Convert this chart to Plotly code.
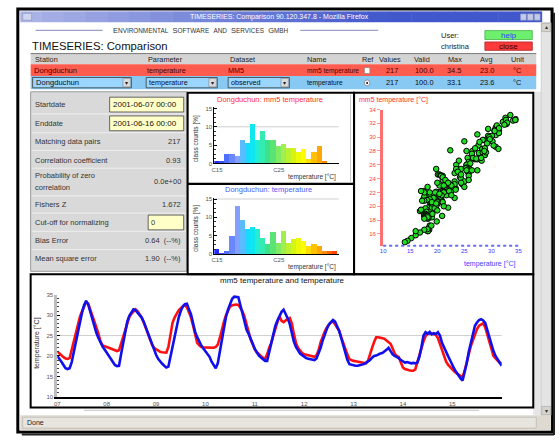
import plotly.graph_objects as go
import plotly.colors as pc
import pandas as pd

W, H = 559, 440
FONT = "Liberation Sans, Arial, sans-serif"

# ---------------- data ----------------
ts_start = "2001-06-07 00:00"
ts_end = "2001-06-16 00:00"
day_ticks = ["2001-06-%02d" % d for d in range(7, 16)]
day_labels = ["07", "08", "09", "10", "11", "12", "13", "14", "15"]

# observed temperature (blue), hourly values
obs_temp = [
    20.0, 19.4, 18.6, 17.8, 17.0, 16.8, 17.0, 18.5, 21.0, 23.5, 26.5, 28.6, 30.6, 32.4, 33.5, 32.6, 30.8, 29.4, 27.6, 25.6, 24.4, 23.2, 22.3, 21.6,
    20.9, 20.2, 19.4, 18.5, 17.8, 17.5, 17.6, 20.4, 23.2, 25.8, 28.4, 29.8, 30.8, 31.4, 31.2, 30.6, 30.1, 29.4, 28.4, 27.0, 25.8, 24.2, 22.6, 21.2,
    20.3, 19.3, 18.6, 18.1, 17.6, 17.2, 17.4, 19.8, 22.4, 25.0, 27.4, 29.4, 31.0, 32.1, 32.7, 32.8, 31.4, 30.2, 28.0, 25.9, 24.6, 23.4, 22.6, 21.8,
    21.2, 20.4, 19.8, 18.6, 17.6, 17.0, 18.2, 21.0, 24.0, 27.0, 29.6, 31.4, 32.9, 34.0, 34.5, 34.5, 34.4, 32.4, 30.6, 28.4, 26.4, 25.4, 24.4, 23.0,
    21.7, 20.8, 20.1, 19.6, 19.2, 18.8, 18.8, 21.0, 23.2, 25.6, 27.4, 28.7, 29.7, 30.8, 31.3, 30.4, 29.2, 27.8, 25.4, 23.5, 22.2, 21.2, 20.6, 20.2,
    19.8, 19.5, 19.3, 19.2, 19.1, 19.0, 19.4, 20.6, 22.0, 23.8, 25.4, 26.6, 27.7, 28.3, 28.8, 28.4, 27.2, 26.1, 24.4, 22.6, 20.8, 19.0, 18.0, 17.8,
    17.7, 17.6, 17.6, 17.7, 17.8, 18.0, 18.3, 18.6, 19.0, 19.6, 20.0, 20.1, 20.4, 20.6, 20.7, 21.0, 21.5, 22.0, 21.2, 20.4, 20.0, 19.8, 19.5, 19.0,
    18.6, 18.4, 18.5, 18.3, 18.2, 18.3, 18.2, 18.4, 19.8, 22.2, 25.0, 25.8, 25.4, 25.9, 25.3, 25.6, 25.4, 25.8, 25.0, 23.2, 22.0, 20.9, 19.9, 18.9,
    17.6, 16.8, 16.0, 15.2, 14.5, 14.0, 16.0, 18.2, 21.0, 23.4, 25.8, 27.4, 28.2, 28.8, 29.0, 28.7, 28.1, 26.4, 24.4, 22.6, 21.2, 20.0, 19.1, 18.2,
    17.6,
]

# mm5 model temperature (red)
mm5_temp = [
    21.1, 20.6, 20.1, 19.7, 19.4, 19.3, 19.5, 21.5, 23.8, 26.0, 28.0, 29.6, 30.9, 32.3, 33.2, 32.8, 31.4, 30.2, 28.8, 27.0, 25.4, 23.6, 22.6, 22.3,
    22.2, 22.0, 21.8, 21.6, 21.4, 21.2, 21.4, 23.0, 24.8, 26.4, 28.0, 29.5, 30.3, 30.9, 31.4, 31.0, 30.2, 29.4, 28.2, 26.8, 25.6, 24.2, 22.8, 22.0,
    21.6, 21.2, 21.0, 20.9, 20.8, 20.8, 22.2, 25.4, 28.1, 29.4, 30.4, 31.2, 31.7, 32.2, 32.5, 31.9, 30.6, 29.4, 27.4, 25.2, 23.2, 22.6, 22.2, 22.1,
    22.1, 22.0, 22.1, 22.0, 22.0, 22.2, 22.8, 24.4, 26.6, 28.4, 30.0, 31.3, 32.1, 32.4, 32.5, 32.6, 32.5, 31.8, 30.9, 29.6, 27.6, 26.0, 24.0, 22.8,
    21.6, 20.9, 20.4, 19.9, 19.5, 19.3, 20.4, 22.0, 23.2, 25.0, 26.8, 28.3, 29.7, 28.6, 28.3, 28.8, 29.1, 29.3, 28.0, 25.4, 23.2, 22.0, 21.2, 20.7,
    20.4, 20.3, 20.1, 20.0, 19.9, 19.8, 20.2, 21.4, 23.4, 25.0, 26.0, 27.0, 27.7, 28.3, 28.4, 27.8, 26.9, 26.2, 24.6, 23.0, 21.6, 20.4, 19.2, 18.9,
    18.8, 18.7, 18.6, 18.5, 18.4, 18.3, 18.2, 18.8, 20.6, 22.0, 23.4, 24.6, 24.6, 24.5, 24.4, 24.2, 23.8, 23.4, 23.0, 21.8, 20.6, 20.0, 19.7, 18.4,
    17.2, 16.8, 16.6, 16.5, 16.4, 16.4, 16.7, 18.4, 20.4, 22.2, 23.6, 24.8, 25.6, 25.4, 25.5, 25.3, 25.2, 24.4, 22.8, 21.2, 19.8, 18.6, 17.8, 17.2,
    16.6, 16.2, 15.8, 15.4, 15.0, 14.8, 16.4, 18.6, 20.6, 22.4, 23.8, 25.2, 26.6, 27.4, 27.8, 28.0, 27.0, 25.2, 23.4, 21.6, 20.0, 19.4, 18.9, 18.4,
    18.2,
]

# histogram classes [°C] and class counts [%]
hist_lo = 14.57
class_w = 0.83
mm5_counts = [0.7, 0.7, 2.5, 2.5, 2.0, 6.4, 5.6, 10.7, 6.4, 8.8, 6.2, 6.2,
              4.7, 5.1, 4.2, 4.2, 3.1, 3.8, 1.1, 3.1, 4.7, 0.7]
obs_counts = [1.5, 0.4, 0.8, 4.9, 13.0, 9.3, 6.8, 7.3, 6.8, 4.3, 2.7, 5.9,
              3.1, 6.3, 3.1, 4.0, 4.3, 3.6, 2.2, 2.7, 2.2, 0.9, 0.9, 0.9]
hist_tickvals = [15, 25]
hist_ticktext = ["C15", "C25"]

table_header = ["Station", "Parameter", "Dataset", "Name", "Ref", "Values", "Valid", "Max", "Avg", "Unit"]
row_mm5 = ["Dongduchun", "temperature", "MM5", "mm5 temperature", "", "217", "100.0", "34.5", "23.0", "°C"]
row_obs = ["Dongduchun", "temperature", "observed", "temperature", "", "217", "100.0", "33.1", "23.6", "°C"]

start_date = "2001-06-07 00:00"
end_date = "2001-06-16 00:00"
stats_labels = ["Matching data pairs", "Correlation coefficient", "Probability of zero|correlation",
                "Fishers Z", "Cut-off for normalizing", "Bias Error", "Mean square error"]
stats_values = ["217", "0.93", "0.0e+00", "1.672", "0", "0.64  (--%)", "1.90  (--%)"]

hist1_ref_pct = 10
hist2_ref_pct = 15
ts_ref_temp = 25

assert len(obs_temp) == 217 and len(mm5_temp) == 217

times = pd.date_range(ts_start, ts_end, freq="h")

# ---------------- helpers ----------------
shapes = []
anns = []


def R(x0, y0, x1, y1, fill="rgba(0,0,0,0)", line="rgba(0,0,0,0)", lw=0, layer="above", kind="rect"):
    shapes.append(dict(type=kind, xref="paper", yref="paper", x0=x0 / W, x1=x1 / W,
                       y0=1 - y1 / H, y1=1 - y0 / H, fillcolor=fill,
                       line=dict(color=line, width=lw), layer=layer))


def L(x0, y0, x1, y1, color, lw=1, dash="solid", layer="above"):
    shapes.append(dict(type="line", xref="paper", yref="paper", x0=x0 / W, x1=x1 / W,
                       y0=1 - y0 / H, y1=1 - y1 / H, line=dict(color=color, width=lw, dash=dash),
                       layer=layer))


def T(x, y, s, size=7.5, color="#222", xa="left", ya="middle", angle=0):
    anns.append(dict(x=x / W, y=1 - y / H, xref="paper", yref="paper", text=s, showarrow=False,
                     xanchor=xa, yanchor=ya, textangle=angle, borderpad=0,
                     font=dict(size=size, color=color, family=FONT)))


def small_caps(words, big=8.6, small=6.4):
    out = []
    for w in words:
        if w.islower():
            out.append("<span style='font-size:%spx'>%s</span>" % (small, w.upper()))
        else:
            out.append("%s<span style='font-size:%spx'>%s</span>" % (w[0], small, w[1:].upper()))
    return "  ".join(out)


# ---------------- window chrome ----------------
R(15, 6, 556, 435, fill="white", line="black", lw=3, layer="below")
L(558, 10, 558, 438, "#222", 2)
L(19, 437.5, 558, 437.5, "#222", 2)
# title bar gradient
n = 24
for i in range(n):
    f = i / (n - 1)
    r = int(170 - 105 * min(1, f * 1.4))
    g = int(178 - 90 * min(1, f * 1.4))
    b = int(230 - 25 * min(1, f * 1.4))
    R(17.5 + i * (528 / n), 8.5, 17.5 + (i + 1) * (528 / n) + 0.5, 19.5, fill="rgb(%d,%d,%d)" % (r, g, b))
R(20, 10.5, 29, 17.5, fill="#d0d6f0", line="#8890b8", lw=0.6)
for bx in (524, 531, 538):
    R(bx, 11, bx + 6, 17.5, fill="#c4cbe8", line="#7f8cc0", lw=0.6)
T(280, 14.3, "TIMESERIES: Comparison 90.120.347.8 - Mozilla Firefox", size=7, color="white", xa="center")

# right grey strip + scrollbar
R(537, 90, 545, 418, fill="#e6e6e6")
R(545, 20, 555, 418, fill="#e4e4e4", line="#bdbdbd", lw=0.6)
R(545.5, 20.5, 554.5, 29, fill="#d6d3cc", line="#999", lw=0.5)
R(545.5, 409, 554.5, 417.5, fill="#d6d3cc", line="#999", lw=0.5)
T(550, 24.8, "▴", size=6, color="#333", xa="center")
T(550, 413.2, "▾", size=6, color="#333", xa="center")
# status bar
R(17.5, 418, 555, 433.5, fill="#dedad2")
R(20, 420, 540, 431, fill="#e8e5df", line="#b0aca4", lw=0.6)
T(23, 425.5, "Done", size=7, color="#222")
L(82, 413, 482, 413, "#d0d0d0", 1.2)

# header
L(33, 27.8, 101, 27.8, "#9aa0c8", 1.2)
L(301, 27.8, 380, 27.8, "#9aa0c8", 1.2)
T(201, 27.5, small_caps(["Environmental", "Software", "and", "Services", "GmbH"]),
  color="#333", xa="center")
T(28.5, 43.5, "TIMESERIES: Comparison", size=11.3, color="#111")
T(443, 32.5, "User:", size=7.5, color="#222")
T(443, 44, "christina", size=7.5, color="#222")
R(488, 28, 536, 37, fill="#6ef06e", line="#44b044", lw=0.8)
T(512, 32.6, "help", size=8, color="#2a46f0", xa="center")
R(488, 39.5, 536, 48, fill="#ff3a3a", line="#b02020", lw=0.8)
T(512, 43.9, "close", size=8, color="#3a0000", xa="center")

# table
R(28, 51, 540, 62, fill="#d4d4d4")
L(28, 51.3, 540, 51.3, "#7a7a7a", 1)
R(28, 62, 540, 74, fill="#ff5c50")
R(28, 74, 540, 87.5, fill="#88c9f4")
col_x = [31, 146, 229, 307, 363, 380, 415, 450, 482, 513]
row_x = [30, 145, 227, 307, 366, 387, 416, 449, 482, 515]
row_sz = [7.6, 7.2, 7.2, 6.6, 7, 7.4, 7.4, 7.4, 7.4, 7.4]
for x, s in zip(col_x, table_header):
    T(x, 57, s, size=7.3, color="#222")
for x, s, sz in zip(row_x, row_mm5, row_sz):
    if s:
        T(x, 68.5, s, size=sz, color="#4a0000")
R(366, 65.5, 371.5, 71.5, fill="white", line="#777", lw=0.6)
for (bx0, bx1) in [(30, 130), (145, 217), (228, 290)]:
    R(bx0, 75.5, bx1, 86, fill="#9ad6ff", line="#3a3a3a", lw=0.8)
    R(bx1 - 8.5, 76.5, bx1 - 1, 85, fill="#dcdcdc", line="#777", lw=0.5)
    T(bx1 - 4.7, 80.8, "▾", size=6, color="#222", xa="center")
blue_x = [32, 147, 230, 307, 366, 387, 416, 449, 482, 515]
for x, s, sz in zip(blue_x, row_obs, row_sz):
    if s:
        T(x, 81, s, size=sz, color="#0a0a20")
R(366, 78, 371.5, 84, fill="white", line="#666", lw=0.6, kind="circle")
R(367.8, 79.8, 369.7, 82.2, fill="#222", kind="circle")

# stats panel
R(28, 90, 186, 272, fill="#d9d9d9", line="#9a9a9a", lw=1, layer="below")
for yy in [112.5, 131.5, 149.5, 167.5, 195.5, 213, 231.5, 250]:
    L(29, yy, 185, yy, "#efefef", 1)
T(31.5, 103.3, "Startdate", size=7.5, color="#333")
T(31.5, 122.3, "Enddate", size=7.5, color="#333")
R(108, 95.5, 183, 110.5, fill="#ffffc8", line="#444", lw=0.8)
R(108, 114.5, 183, 129.5, fill="#ffffc8", line="#444", lw=0.8)
T(110, 103.3, start_date, size=8, color="#111")
T(110, 122.3, end_date, size=8, color="#111")
stat_y = [140.7, 159.3, 175, 204.3, 222.3, 240.7, 259.5]
for lab, val, yy in zip(stats_labels, stats_values, stat_y):
    if "|" in lab:
        a, b = lab.split("|")
        T(31.5, yy, a, size=7.5, color="#333")
        T(31.5, yy + 12.5, b, size=7.5, color="#333")
        T(181.5, yy + 5.5, val, size=7.5, color="#333", xa="right")
    elif lab.startswith("Cut-off"):
        T(31.5, yy, lab, size=7.5, color="#333")
        R(147, 215, 183, 230, fill="#ffffc8", line="#444", lw=0.8)
        T(149, yy, val, size=7.5, color="#333")
    else:
        T(31.5, yy, lab, size=7.5, color="#333")
        T(181.5, yy, val, size=7.5, color="#333", xa="right")

# panel borders
R(187, 91, 355.5, 275, line="black", lw=2)
L(187, 183.3, 355.5, 183.3, "black", 2.2)
R(355.5, 91, 537, 275, line="black", lw=2)
R(28, 275, 537, 410, line="black", lw=2)
L(352, 93, 352, 181, "#c8c8c8", 1)

# ---------------- charts ----------------
temp_scale = [[0.0, "#1818ff"], [0.0976, "#4a6cff"], [0.195, "#8aa6ff"], [0.283, "#00e4ff"],
              [0.366, "#30f0c8"], [0.439, "#3ee080"], [0.537, "#98ee58"], [0.634, "#d8f410"],
              [0.707, "#ffff00"], [0.78, "#ffc800"], [0.854, "#ff9a00"], [0.927, "#ff5a00"],
              [1.0, "#ff1800"]]


def class_centers(counts):
    return [hist_lo + (i + 0.5) * class_w for i in range(len(counts))]


def class_colors(centers):
    return pc.sample_colorscale(temp_scale, [min(1, max(0, (c - 14.5) / 20.5)) for c in centers])


fig = go.Figure()
c1 = class_centers(mm5_counts)
c2 = class_centers(obs_counts)
fig.add_trace(go.Bar(x=c1, y=mm5_counts, width=class_w, marker=dict(color=class_colors(c1), line=dict(width=0)),
                     xaxis="x", yaxis="y"))
fig.add_trace(go.Bar(x=c2, y=obs_counts, width=class_w, marker=dict(color=class_colors(c2), line=dict(width=0)),
                     xaxis="x2", yaxis="y2"))
fig.add_trace(go.Scatter(x=obs_temp, y=mm5_temp, mode="markers",
                         marker=dict(size=5.5, color="#22dd22", line=dict(color="black", width=1)),
                         xaxis="x3", yaxis="y3"))
fig.add_trace(go.Scatter(x=times, y=mm5_temp, mode="lines", line=dict(color="#ff1010", width=2.6),
                         xaxis="x4", yaxis="y4"))
fig.add_trace(go.Scatter(x=times, y=obs_temp, mode="lines", line=dict(color="#1010ee", width=2.6),
                         xaxis="x4", yaxis="y4"))

tick6 = dict(size=6, color="#555", family=FONT)
hist_x = dict(range=[hist_lo, 34.7], showline=True, linecolor="black", linewidth=1, ticks="",
              tickvals=hist_tickvals, ticktext=hist_ticktext, tickfont=tick6, showgrid=False,
              zeroline=False)
hist_y = dict(range=[0, 15.3], showline=True, linecolor="black", linewidth=1, ticks="inside",
              ticklen=3, tickcolor="black", tickvals=[0, 5, 10, 15], tickfont=tick6,
              minor=dict(ticks="inside", ticklen=2, dtick=1.25, tickcolor="#333"),
              showgrid=False, zeroline=False)

fig.update_layout(
    width=W, height=H, margin=dict(l=0, r=0, t=0, b=0), autosize=False,
    paper_bgcolor="rgba(0,0,0,0)", plot_bgcolor="rgba(0,0,0,0)",
    showlegend=False, bargap=0, font=dict(family=FONT),
    xaxis=dict(domain=[214 / W, 340 / W], anchor="y", **hist_x),
    yaxis=dict(domain=[1 - 162.7 / H, 1 - 105.8 / H], anchor="x", **hist_y),
    xaxis2=dict(domain=[214 / W, 340 / W], anchor="y2", **hist_x),
    yaxis2=dict(domain=[1 - 254.5 / H, 1 - 197.6 / H], anchor="x2", **hist_y),
    xaxis3=dict(domain=[385 / W, 522 / W], anchor="y3", range=[10, 35], showline=False,
                tickvals=[10, 15, 20, 25, 30, 35], ticks="", showgrid=False, zeroline=False,
                tickfont=dict(size=6, color="#3a3aff", family=FONT)),
    yaxis3=dict(domain=[1 - 246 / H, 1 - 108 / H], anchor="x3", range=[14.3, 34], showline=True,
                linecolor="#ff7070", linewidth=3, ticks="outside", ticklen=3, tickcolor="#ff9090",
                tickvals=list(range(16, 35, 2)), showgrid=False, zeroline=False,
                tickfont=dict(size=6, color="#ff3a3a", family=FONT)),
    xaxis4=dict(domain=[55 / W, 505 / W], anchor="y4", type="date", range=[ts_start, ts_end],
                tickvals=day_ticks, ticktext=day_labels, showline=True, linecolor="black",
                linewidth=1.5, ticks="", showgrid=False, zeroline=False, tickfont=tick6),
    yaxis4=dict(domain=[1 - 399.3 / H, 1 - 295.7 / H], anchor="x4", range=[10, 35],
                tickvals=[10, 15, 20, 25, 30, 35], showline=True, linecolor="#bdbdbd", linewidth=3,
                ticks="inside", ticklen=3, tickcolor="black",
                minor=dict(ticks="inside", ticklen=2, dtick=1, tickcolor="#444"),
                showgrid=False, zeroline=False, tickfont=tick6),
)

# reference grid lines
shapes.append(dict(type="line", xref="x domain", yref="y", x0=0, x1=1, y0=hist1_ref_pct, y1=hist1_ref_pct,
                   line=dict(color="#cfcfcf", width=1), layer="below"))
shapes.append(dict(type="line", xref="x2 domain", yref="y2", x0=0, x1=1, y0=hist2_ref_pct, y1=hist2_ref_pct,
                   line=dict(color="#cfcfcf", width=1), layer="below"))
shapes.append(dict(type="line", xref="x4 domain", yref="y4", x0=0, x1=1, y0=ts_ref_temp, y1=ts_ref_temp,
                   line=dict(color="#cfcfcf", width=1), layer="below"))
shapes.append(dict(type="line", xref="x3 domain", yref="y3 domain", x0=0, x1=1, y0=0, y1=0,
                   line=dict(color="#6a6aff", width=2, dash="dot"), layer="above"))

# chart texts
T(270, 97.5, "Dongduchun: mm5 temperature", size=7.5, color="#ff3030", xa="center")
T(269, 189.5, "Dongduchun: temperature", size=7.5, color="#4a5cff", xa="center")
T(195.5, 138, "class counts [%]", size=6.5, color="#333", xa="center", angle=-90)
T(195.5, 229, "class counts [%]", size=6.5, color="#333", xa="center", angle=-90)
T(338, 176.5, "temperature [°C]", size=6.5, color="#333", xa="right")
T(338, 268, "temperature [°C]", size=6.5, color="#333", xa="right")
T(360, 98.5, "mm5 temperature [°C]", size=7, color="#ff3030")
T(520, 264.5, "temperature [°C]", size=7, color="#3a44ff", xa="right")
T(283, 281.5, "mm5 temperature and temperature", size=8, color="#111", xa="center")
T(35, 345, "temperature [°C]", size=7, color="#333", xa="center", angle=-90)

fig.update_layout(shapes=shapes, annotations=anns)

fig.write_html("out.html", config={"displayModeBar": False},
               post_script="document.body.style.margin='0';document.body.style.overflow='hidden';")
